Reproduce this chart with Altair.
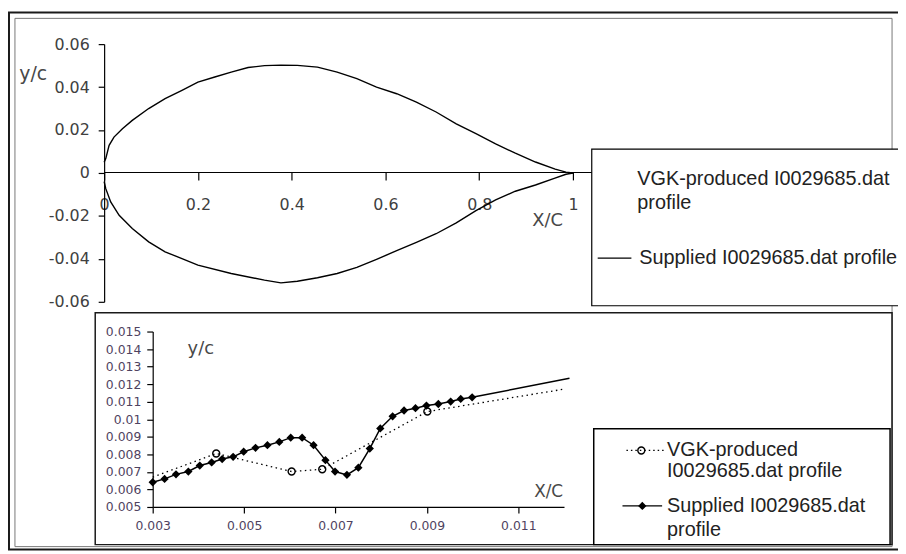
import altair as alt
import pandas as pd

# ---------------- main chart: aerofoil profile ----------------
upper_x = [0.0, 0.0035, 0.0106, 0.021, 0.039, 0.06, 0.095, 0.13, 0.166, 0.2,
           0.236, 0.271, 0.307, 0.342, 0.377, 0.412, 0.455, 0.497, 0.539, 0.581,
           0.624, 0.666, 0.708, 0.751, 0.793, 0.835, 0.877, 0.92, 0.962, 0.985, 1.0]
upper_y = [0.005, 0.0067, 0.0129, 0.0167, 0.0206, 0.0245, 0.030, 0.0346, 0.0385, 0.0423,
           0.0447, 0.047, 0.0491, 0.0500, 0.0502, 0.0501, 0.0493, 0.0470, 0.0439, 0.0400,
           0.0369, 0.0330, 0.0284, 0.0229, 0.0183, 0.0136, 0.0092, 0.0051, 0.0018, 0.0004, 0.0]
lower_x = [0.0, 0.0035, 0.014, 0.032, 0.06, 0.095, 0.13, 0.166, 0.2, 0.271,
           0.342, 0.377, 0.412, 0.455, 0.497, 0.539, 0.581, 0.624, 0.666, 0.708,
           0.751, 0.793, 0.835, 0.877, 0.92, 0.96, 0.985, 1.0]
lower_y = [-0.004, -0.0073, -0.0135, -0.0197, -0.0259, -0.0321, -0.0367, -0.0399, -0.0429, -0.0468,
           -0.0499, -0.0512, -0.0504, -0.0488, -0.0468, -0.0440, -0.0402, -0.0362, -0.0323, -0.0283,
           -0.0232, -0.0175, -0.0125, -0.0085, -0.0056, -0.0025, -0.0006, 0.0]
main_xticks = [0, 0.2, 0.4, 0.6, 0.8, 1]
main_yticks = [-0.06, -0.04, -0.02, 0, 0.02, 0.04, 0.06]

# ---------------- inset: leading-edge detail ----------------
sup_x = [0.00300, 0.00326, 0.00351, 0.00378, 0.00403, 0.00429, 0.00452, 0.00476, 0.00499, 0.00525,
         0.00551, 0.00577, 0.00602, 0.00627, 0.00652, 0.00678, 0.00699, 0.00725, 0.00750, 0.00775,
         0.00798, 0.00825, 0.00850, 0.00875, 0.00899, 0.00925, 0.00952, 0.00974, 0.00999, 0.01212]
sup_y = [0.00641, 0.00660, 0.00686, 0.00702, 0.00736, 0.00754, 0.00773, 0.00786, 0.00815, 0.00837,
         0.00852, 0.00871, 0.00895, 0.00895, 0.00852, 0.00767, 0.00702, 0.00683, 0.00724, 0.00833,
         0.00948, 0.01017, 0.01050, 0.01063, 0.01078, 0.01087, 0.01101, 0.01116, 0.01125, 0.01234]
sup_marked = [True] * 29 + [False]
vgk_x = [0.00300, 0.00439, 0.00604, 0.00671, 0.00901, 0.01201]
vgk_y = [0.00670, 0.00805, 0.00702, 0.00715, 0.01044, 0.01172]
vgk_marked = [False, True, True, True, True, False]
inset_xticks = [0.003, 0.005, 0.007, 0.009, 0.011]
inset_yticks = [0.005, 0.006, 0.007, 0.008, 0.009, 0.010, 0.011, 0.012, 0.013, 0.014, 0.015]

legend_vgk = "VGK-produced I0029685.dat"
legend_sup = "Supplied I0029685.dat"

W, H = 898, 546
TICKFONT = "DejaVu Sans"
LEGFONT = "Liberation Sans"

main_df = pd.DataFrame({
    "x": upper_x + lower_x,
    "y": upper_y + lower_y,
    "surface": ["upper"] * len(upper_x) + ["lower"] * len(lower_x),
})
sup_df = pd.DataFrame({"x": sup_x, "y": sup_y, "m": sup_marked})
vgk_df = pd.DataFrame({"x": vgk_x, "y": vgk_y, "m": vgk_marked})
one = pd.DataFrame({"a": [0]})


def axis(orient, offset, values, tsize, lpad, lsize, lcolor, title, tx, ty, tsize_t):
    return alt.Axis(
        orient=orient, offset=offset, values=values,
        labelExpr="toString(datum.value)",
        tickSize=tsize, labelPadding=lpad, labelFont=TICKFONT, labelFontSize=lsize,
        labelColor=lcolor, labelFlush=False, labelOverlap=False, grid=False,
        domainColor="black", tickColor="black", domainWidth=1.2, tickWidth=1.2,
        title=title, titleX=tx, titleY=ty, titleAngle=0, titleAlign="center",
        titleBaseline="middle", titleFont=TICKFONT, titleFontSize=tsize_t,
        titleFontWeight="normal", titleColor="#484848",
    )


# main chart (x range in plot px, y range in plot px)
mx = alt.X("x:Q", scale=alt.Scale(domain=[0, 1.04], range=[97, 589], nice=False, zero=False),
           axis=axis("bottom", 163 - H, main_xticks, 8, 17, 16, "#404040", "X/C", 544, 49, 18))
my = alt.Y("y:Q", scale=alt.Scale(domain=[-0.06, 0.06], range=[294, 34], nice=False, zero=False),
           axis=axis("left", -97, main_yticks, 6, 9, 16, "#404040", "y/c", -72, 64, 19))
main = alt.Chart(main_df).mark_line(color="black", strokeWidth=1.4).encode(
    x=mx, y=my, detail="surface:N")

# inset chart
ix = alt.X("x:Q", scale=alt.Scale(domain=[0.003, 0.012], range=[146, 561], nice=False, zero=False),
           axis=axis("bottom", 501 - H, inset_xticks, 6, 7, 12.5, "#4e4260", "X/C", 545, -16, 17))
iy = alt.Y("y:Q", scale=alt.Scale(domain=[0.005, 0.015], range=[501, 324], nice=False, zero=False),
           axis=axis("left", -146, inset_yticks, 6, 6, 12.5, "#4e4260", "y/c", 48, 341, 18))

sup_line = alt.Chart(sup_df).mark_line(color="black", strokeWidth=1.5).encode(x=ix, y=iy)
sup_pts = alt.Chart(sup_df).transform_filter("datum.m").mark_point(
    shape="diamond", filled=True, color="black", size=70, opacity=1).encode(x=ix, y=iy)
vgk_line = alt.Chart(vgk_df).mark_line(color="black", strokeWidth=1.3, strokeDash=[1.5, 3.5]).encode(x=ix, y=iy)
vgk_pts = alt.Chart(vgk_df).transform_filter("datum.m").mark_point(
    shape="circle", filled=False, color="black", strokeWidth=1.4, size=50, opacity=1).encode(x=ix, y=iy)
inset = alt.layer(sup_line, sup_pts, vgk_line, vgk_pts)


def box(x1, y1, x2, y2, stroke="black", sw=1.0, fill=False):
    props = dict(stroke=stroke, strokeWidth=sw)
    if fill:
        props.update(fill="white")
    else:
        props.update(fillOpacity=0)
    return alt.Chart(one).mark_rect(**props).encode(
        x=alt.value(x1), x2=alt.value(x2), y=alt.value(y1), y2=alt.value(y2))


def label(txt, x, y, size=20):
    return alt.Chart(one).mark_text(text=txt, align="left", baseline="middle", font=LEGFONT,
                                    fontSize=size, color="#222222").encode(x=alt.value(x), y=alt.value(y))


def hline(x1, x2, y, dash=None):
    props = dict(color="black", strokeWidth=1.3)
    if dash:
        props.update(strokeDash=dash)
    return alt.Chart(one).mark_rule(**props).encode(x=alt.value(x1), x2=alt.value(x2), y=alt.value(y))


def sym(x, y, shape, filled, size):
    return alt.Chart(one).mark_point(shape=shape, filled=filled, color="black", size=size,
                                     strokeWidth=1.4, opacity=1).encode(x=alt.value(x), y=alt.value(y))


frames = alt.layer(
    box(1, 2, 910, 544, stroke="#1a1a1a", sw=2),
    box(7, 8, 892, 541, stroke="#777777", sw=1),
)
legend_main = alt.layer(
    box(589, 140, 905, 298, stroke="black", sw=1.2, fill=True),
    label(legend_vgk, 635, 170),
    label("profile", 635, 194),
    hline(595, 629, 250),
    label(legend_sup + " profile", 637, 250),
)
inset_box = box(88, 305, 892, 539, stroke="#1a1a1a", sw=1.5)
legend_inset = alt.layer(
    box(591, 422, 890, 539, stroke="black", sw=1.5, fill=True),
    hline(624, 664, 444, dash=[1.5, 3]),
    sym(639, 444, "circle", False, 50),
    label("VGK-produced", 665, 444),
    label("I0029685.dat profile", 665, 465),
    hline(620, 660, 500),
    sym(640, 500, "diamond", True, 70),
    label(legend_sup, 665, 500),
    label("profile", 665, 524),
)

chart = alt.layer(frames, main, legend_main, inset_box, inset, legend_inset).resolve_scale(
    x="independent", y="independent"
).properties(
    width=W, height=H, padding=0, autosize=alt.AutoSizeParams(type="none"), background="white"
).configure_view(strokeWidth=0)

chart.save("out.html", embed_options={"renderer": "svg", "actions": False})
